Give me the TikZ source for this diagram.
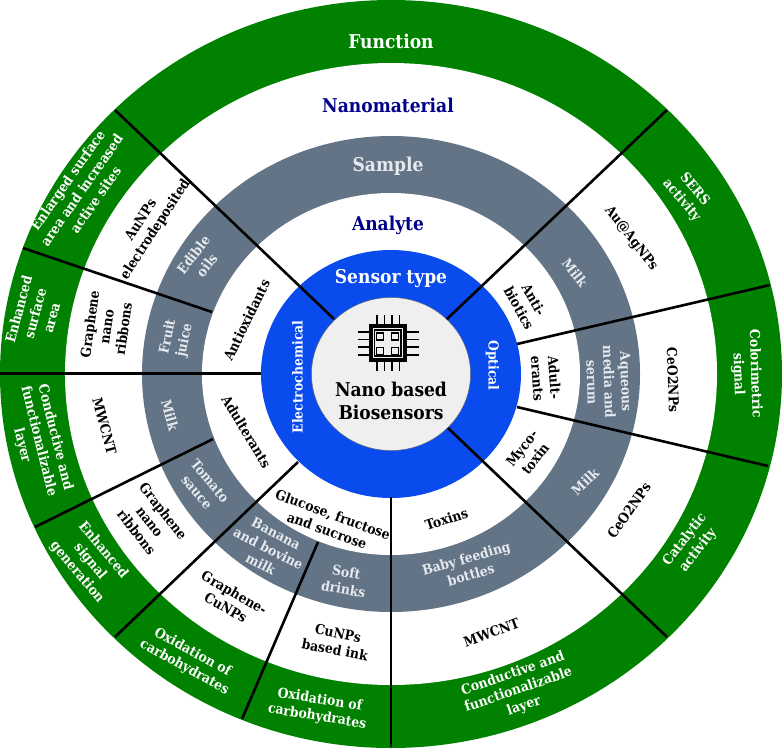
\documentclass[tikz,border=0pt]{standalone}
\usepackage{fontspec}
\setmainfont{DejaVu Serif Condensed}
\usetikzlibrary{calc}
\definecolor{ringgreen}{HTML}{008200}
\definecolor{ringblue}{HTML}{0A4BEE}
\definecolor{ringslate}{HTML}{637486}
\definecolor{corefill}{HTML}{EFEFEF}
\definecolor{headnavy}{HTML}{00008B}
\definecolor{softwhite}{HTML}{E6EAEE}
\tikzset{
  spoke/.style={draw=black, line width=2.6pt},
  pin/.style={draw=black, line width=1.6pt},
  lbl/.style={font=\fontsize{13.8}{17}\selectfont\bfseries, align=center, inner sep=0pt, text=black},
  lblw/.style={lbl, text=white},
  lblg/.style={lbl, text=softwhite},
  head/.style={font=\fontsize{19}{22}\selectfont\bfseries, inner sep=0pt}
}

\begin{document}
\begin{tikzpicture}[x=1pt, y=-1pt]

  \useasboundingbox (0,0) rectangle (782,748);
  \coordinate (C) at (391,374);

  % rings, outside in
  \fill[ringgreen] (C) ellipse (391pt and 374pt);
  \fill[white] (C) ellipse (326pt and 311pt);
  \fill[ringslate] (C) ellipse (249pt and 238pt);
  \fill[white] (C) ellipse (189pt and 181pt);
  \fill[ringblue] (C) ellipse (130pt and 124pt);
  \draw[fill=corefill, draw=black!60, line width=.4pt] (C) ellipse (79.5pt and 76.5pt);

  % spoke ends
  \coordinate (UL) at (115,110);
  \coordinate (ULi) at (334,319);
  \coordinate (UR) at (667,110);
  \coordinate (URi) at (447,319);
  \coordinate (RU) at (770,285);
  \coordinate (RUi) at (517,344);
  \coordinate (RL) at (768,466);
  \coordinate (RLi) at (517,407);
  \coordinate (LR) at (667,637);
  \coordinate (LRi) at (448,428);
  \coordinate (B) at (391,747);
  \coordinate (Bi) at (391,497);
  \coordinate (BL) at (242,719);
  \coordinate (BLi) at (318,542);
  \coordinate (LL) at (115,637);
  \coordinate (LLi) at (298,462);
  \coordinate (LM) at (35,527);
  \coordinate (LMi) at (213,439);
  \coordinate (L) at (0,373.5);
  \coordinate (Li) at (261,373.5);
  \coordinate (LU) at (23,248);
  \coordinate (LUi) at (212,312);

  \draw[spoke] (UL) -- (ULi);
  \draw[spoke] (UR) -- (URi);
  \draw[spoke] (RU) -- (RUi);
  \draw[spoke] (RL) -- (RLi);
  \draw[spoke] (LR) -- (LRi);
  \draw[spoke] (B) -- (Bi);
  \draw[spoke] (BL) -- (BLi);
  \draw[spoke] (LL) -- (LLi);
  \draw[spoke] (LM) -- (LMi);
  \draw[spoke] (L) -- (Li);
  \draw[spoke] (LU) -- (LUi);

  % chip
  \fill[black] (368.5,324) rectangle (407,362);
  \fill[corefill] (372.5,328) rectangle (403,358);
  \fill[black] (373.5,329) rectangle (402,357);
  \fill[corefill] (375.2,330.7) rectangle (400.3,355.3);
  \foreach \px in {380,395}
    \foreach \py in {336.5,351}
      \draw[black, line width=1.8pt] (\px-3.5,\py-3.5) rectangle (\px+3.5,\py+3.5);
  \foreach \pk in {0,1,2,3} {
    \draw[pin] (376.7+7.6*\pk,315) -- (376.7+7.6*\pk,324);
    \draw[pin] (376.7+7.6*\pk,362) -- (376.7+7.6*\pk,370.5);
    \draw[pin] (358,332+7.6*\pk) -- (368.5,332+7.6*\pk);
    \draw[pin] (407,332+7.6*\pk) -- (418.5,332+7.6*\pk);
  }

  \node (core) at (391,401) [font=\fontsize{19}{22.5}\selectfont\bfseries, align=center, inner sep=0pt]{Nano based\\Biosensors};

  \node (sensor) at (391,279) [head, text=white]{Sensor type};
  \node (elec) at (297.5,377) [lblw, rotate=90]{Electrochemical};
  \node (opti) at (492.5,365.5) [lblw, rotate=-90]{Optical};
  \node (func) at (391,41) [head, text=white]{Function};
  \node (nano) at (388,105) [head, text=headnavy]{Nanomaterial};
  \node (samp) at (388,166) [head, text=softwhite]{Sample};
  \node (anal) at (388,225) [head, text=headnavy]{Analyte};

  % analyte ring
  \node (antiox) at (246.5,320) [lbl, rotate=64]{Antioxidants};
  \node (adulter) at (246.5,431.5) [lbl, rotate=-59]{Adulterants};
  \node (gluc) at (330,522.5) [lbl, rotate=-20]{Glucose, fructose\\and sucrose};
  \node (toxins) at (446.5,519) [lbl, rotate=18]{Toxins};
  \node (myco) at (528.5,453.5) [lbl, rotate=52]{Myco-\\toxin};
  \node (adult) at (546,378) [lbl, rotate=-86]{Adult-\\erants};
  \node (antib) at (526.5,304) [lbl, rotate=-61]{Anti-\\biotics};

  % sample ring
  \node (edib) at (200,260) [lblg, rotate=52]{Edible\\oils};
  \node (fruit) at (176.5,338.5) [lblg, rotate=78]{Fruit\\juice};
  \node (milka) at (170,415) [lblg, rotate=-75]{Milk};
  \node (toma) at (203.5,486.5) [lblg, rotate=-50]{Tomato\\sauce};
  \node (bana) at (268.5,548.5) [lblg, rotate=-27]{Banana\\and bovine\\milk};
  \node (soft) at (345,580.5) [lblg, rotate=-10]{Soft\\drinks};
  \node (baby) at (468.5,566.5) [lblg, rotate=16]{Baby feeding\\bottles};
  \node (milkb) at (585,481.5) [lblg, rotate=44]{Milk};
  \node (aque) at (609,382) [lblg, rotate=-88]{Aqueous\\media and\\serum};
  \node (milkc) at (575,272.5) [lblg, rotate=-52]{Milk};

  % nanomaterial ring
  \node (aunp) at (148.5,225) [lbl, rotate=57]{AuNPs\\electrodeposited};
  \node (grapa) at (106.5,326.5) [lbl, rotate=82]{Graphene\\nano\\ribbons};
  \node (mwca) at (104.5,426) [lbl, rotate=-75]{MWCNT};
  \node (grapb) at (150,521.5) [lbl, rotate=-52]{Graphene\\nano\\ribbons};
  \node (grcu) at (230,600) [lbl, rotate=-30]{Graphene-\\CuNPs};
  \node (cuink) at (336.5,641.5) [lbl, rotate=-11]{CuNPs\\based ink};
  \node (mwcb) at (491.5,632.5) [lbl, rotate=20]{MWCNT};
  \node (ceoa) at (629,510.5) [lbl, rotate=55]{CeO2NPs};
  \node (ceob) at (673,380) [lbl, rotate=-88]{CeO2NPs};
  \node (auag) at (631,238.5) [lbl, rotate=-52]{Au@AgNPs};

  % function ring
  \node (enla) at (81.5,190) [lblw, rotate=55]{Enlarged surface\\area and increased\\active sites};
  \node (enha) at (35,313.5) [lblw, rotate=75]{Enhanced\\surface\\area};
  \node (cona) at (38.5,441.5) [lblw, rotate=-76]{Conductive and\\functionalizable\\layer};
  \node (enhb) at (90,561.5) [lblw, rotate=-50]{Enhanced\\signal\\generation};
  \node (oxia) at (188.5,660) [lblw, rotate=-29]{Oxidation of\\carbohydrates};
  \node (oxib) at (318.5,708.5) [lblw, rotate=-9]{Oxidation of\\carbohydrates};
  \node (conb) at (518.5,690) [lblw, rotate=19]{Conductive and\\functionalizable\\layer};
  \node (cata) at (691.5,545) [lblw, rotate=52]{Catalytic\\activity};
  \node (colo) at (746.5,374) [lblw, rotate=-88]{Colorimetric\\signal};
  \node (sers) at (688,195) [lblw, rotate=-50]{SERS\\activity};

\end{tikzpicture}
\end{document}
